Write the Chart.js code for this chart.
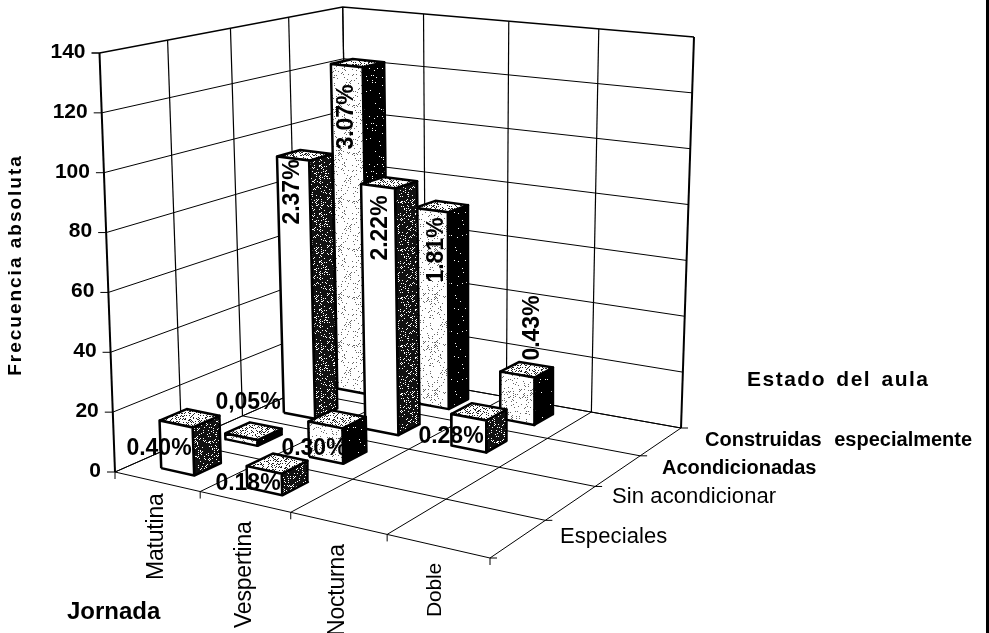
<!DOCTYPE html>
<html>
<head>
<meta charset="utf-8">
<title>Frecuencia absoluta por jornada y estado del aula</title>
<script src="https://cdn.jsdelivr.net/npm/chart.js"></script>
<style>
  html, body { margin: 0; padding: 0; background: #fff; overflow: hidden; }
  #wrap { position: relative; width: 989px; height: 633px; }
  #edge { position: absolute; right: 0; top: 0; width: 3px; height: 633px; background: #000; }
</style>
</head>
<body>
<div id="wrap">
  <canvas id="chart" width="989" height="633"></canvas>
  <div id="edge"></div>
</div>
<script>
const jornadas = ["Matutina", "Vespertina", "Nocturna", "Doble"];
const estados = ["Especiales", "Sin acondicionar", "Acondicionadas", "Construidas especialmente"];
const valueTicks = [0, 20, 40, 60, 80, 100, 120, 140];

// una lista por estado, en orden de jornada (null = sin barra)
const especiales = [16, 7, null, null];
const sinAcondicionar = [2, 12, null, null];
const acondicionadas = [93, 87, 11, null];
const construidas = [122, 72, 17, null];

const pctEspeciales = ["0.40%", "0.18%", null, null];
const pctSinAcondicionar = ["0,05%", "0.30%", null, null];
const pctAcondicionadas = ["2.37%", "2.22%", "0.28%", null];
const pctConstruidas = ["3.07%", "1.81%", "0.43%", null];

const series = [especiales, sinAcondicionar, acondicionadas, construidas];
const pcts = [pctEspeciales, pctSinAcondicionar, pctAcondicionadas, pctConstruidas];

// esquinas de la caja: frente-izq, frente-der, fondo-der, fondo-izq
const floorQuad = [[115, 472], [490, 558], [681, 428], [349, 369]];
const topQuad = [[99.5, 53], [484, 95], [694, 37], [342.7, 7]];
const maxValue = 140;
// la barra dentro de su celda
const barU0 = 0.30, barU1 = 0.69, barV0 = 0.31, barV1 = 0.72;

function homography(q) {
    const [x0, y0] = q[0], [x1, y1] = q[1], [x2, y2] = q[2], [x3, y3] = q[3];
    const dx1 = x1 - x2, dx2 = x3 - x2, sx = x0 - x1 + x2 - x3;
    const dy1 = y1 - y2, dy2 = y3 - y2, sy = y0 - y1 + y2 - y3;
    const den = dx1 * dy2 - dx2 * dy1;
    const g = (sx * dy2 - dx2 * sy) / den, h = (dx1 * sy - sx * dy1) / den;
    const a = x1 - x0 + g * x1, b = x3 - x0 + h * x3;
    const d = y1 - y0 + g * y1, e = y3 - y0 + h * y3;
    return (u, v) => {
        const w = g * u + h * v + 1;
        return { x: (a * u + b * v + x0) / w, y: (d * u + e * v + y0) / w };
    };
}
const floorAt = homography(floorQuad);
const topAt = homography(topQuad);

function project(u, v, val) {
    const p = floorAt(u, v), t = topAt(u, v), k = val / maxValue;
    return { x: p.x + (t.x - p.x) * k, y: p.y + (t.y - p.y) * k };
}

// textura punteada (secuencia fija, no son datos)
function speckle(bg, dot, n) {
    const c = document.createElement("canvas");
    c.width = c.height = 48;
    const g = c.getContext("2d");
    g.fillStyle = bg; g.fillRect(0, 0, 48, 48);
    g.fillStyle = dot;
    let s = 17;
    for (let i = 0; i < n; i++) {
        s = (s * 137 + 29) % 2311;
        const x = s % 48;
        s = (s * 137 + 29) % 2311;
        g.fillRect(x, s % 48, 1, 1);
    }
    return g.createPattern(c, "repeat");
}
const pCtx = document.getElementById("chart").getContext("2d");
const fillLight = speckle("#ffffff", "#666666", 200);
const fillTop = speckle("#ffffff", "#222222", 620);
const fillSide = speckle("#111111", "#ffffff", 300);
const fillDark = speckle("#000000", "#ffffff", 50);

const datasets = [];
function addLine(points, width) {
    datasets.push({
        data: points, borderColor: "#000", borderWidth: width, pointRadius: 0,
        fill: false, tension: 0, order: -datasets.length
    });
}
function addFace(points, bg) {
    datasets.push({
        data: points.concat([points[0]]), borderColor: "#000", borderWidth: 2.5, pointRadius: 0,
        backgroundColor: bg, fill: "shape", tension: 0, order: -datasets.length,
        borderJoinStyle: "round"
    });
}

// paredes y piso
valueTicks.forEach(val => {
    const a = project(0, 0, val);
    addLine([{ x: a.x - 8, y: a.y }, a, project(0, 1, val), project(1, 1, val)], val === maxValue ? 1.3 : 1);
});
for (let i = 0; i <= 4; i++) {
    const edge = i === 0 || i === 4;
    addLine([project(0, i / 4, 0), project(0, i / 4, maxValue)], edge && i === 0 ? 2 : 1.2);
    addLine([project(i / 4, 1, 0), project(i / 4, 1, maxValue)], edge && i === 4 ? 2 : 1.2);
    const f = project(i / 4, 0, 0), r = project(1, i / 4, 0);
    addLine([{ x: f.x, y: f.y + 7 }, f, project(i / 4, 1, 0)], 1);
    addLine([project(0, i / 4, 0), r, { x: r.x + 7, y: r.y }], 1);
}

// barras, del fondo hacia el frente
for (let s = estados.length - 1; s >= 0; s--) {
    for (let j = 0; j < jornadas.length; j++) {
        const val = series[s][j];
        if (val === null) continue;
        const u0 = (j + barU0) / 4, u1 = (j + barU1) / 4;
        const v0 = (s + barV0) / 4, v1 = (s + barV1) / 4;
        const white = s % 2 === 0;
        addFace([project(u1, v0, 0), project(u1, v1, 0), project(u1, v1, val), project(u1, v0, val)], white ? fillSide : fillDark);
        addFace([project(u0, v0, val), project(u1, v0, val), project(u1, v1, val), project(u0, v1, val)], fillTop);
        addFace([project(u0, v0, 0), project(u1, v0, 0), project(u1, v0, val), project(u0, v0, val)], white ? "#ffffff" : fillLight);
    }
}

const textFont = '"Liberation Sans", Arial, sans-serif';
function put(ctx, text, x, y, font, rot, align, spacing, wordSpacing) {
    ctx.save();
    ctx.translate(x, y);
    if (rot) ctx.rotate(-Math.PI / 2);
    ctx.font = font + " " + textFont;
    ctx.letterSpacing = spacing || "0px";
    ctx.wordSpacing = wordSpacing || "0px";
    ctx.textAlign = align || "left";
    ctx.textBaseline = "middle";
    ctx.fillStyle = "#000";
    ctx.fillText(text, 0, 0);
    ctx.restore();
}

// sitio de cada etiqueta de porcentaje: [estado, jornada, x, y, rotada]
const pctSpots = [
    [0, 0, 159, 449, false], [0, 1, 248, 484, false],
    [1, 0, 248, 403, false], [1, 1, 314, 449, false],
    [2, 0, 293, 192, true], [2, 1, 381, 228, true], [2, 2, 451, 437, false],
    [3, 0, 347, 117, true], [3, 1, 437, 250, true], [3, 2, 533, 328, true]
];
const jornadaSpots = [[157, 580], [245, 628], [338, 636], [435, 617]];
const estadoSpots = [[560, 537], [612, 497], [662, 468], [705, 440]];

const textPlugin = {
    id: "textos",
    afterDraw(chart) {
        const ctx = chart.ctx;
        valueTicks.forEach(val => {
            const p = project(0, 0, val);
            put(ctx, String(val), p.x - 14, p.y - 1, "bold 21px", false, "right");
        });
        jornadas.forEach((t, i) => put(ctx, t, jornadaSpots[i][0], jornadaSpots[i][1], i === 3 ? "21px" : "23px", true, "left", "-0.2px"));
        estados.forEach((t, i) => put(ctx, t, estadoSpots[i][0], estadoSpots[i][1], i >= 2 ? "bold 20px" : "22px", false, "left", i >= 2 ? "0px" : "0.1px", i === 3 ? "7px" : "0px"));
        put(ctx, "Frecuencia absoluta", 16, 265, "bold 19px", true, "center", "2px");
        put(ctx, "Jornada", 67, 612, "bold 24px");
        put(ctx, "Estado del aula", 747, 380, "bold 21px", false, "left", "1.5px", "3px");
        pctSpots.forEach(([s, j, x, y, rot]) => {
            put(ctx, pcts[s][j], x, y, "bold 23px", rot, "center");
        });
    }
};

new Chart(pCtx, {
    type: "line",
    data: { datasets },
    options: {
        responsive: false,
        animation: false,
        parsing: false,
        normalized: false,
        layout: { padding: 0 },
        plugins: { legend: { display: false }, tooltip: { enabled: false }, title: { display: false } },
        scales: {
            x: { type: "linear", display: false, min: 0, max: 989 },
            y: { type: "linear", display: false, min: 0, max: 633, reverse: true }
        }
    },
    plugins: [textPlugin]
});
</script>
</body>
</html>
